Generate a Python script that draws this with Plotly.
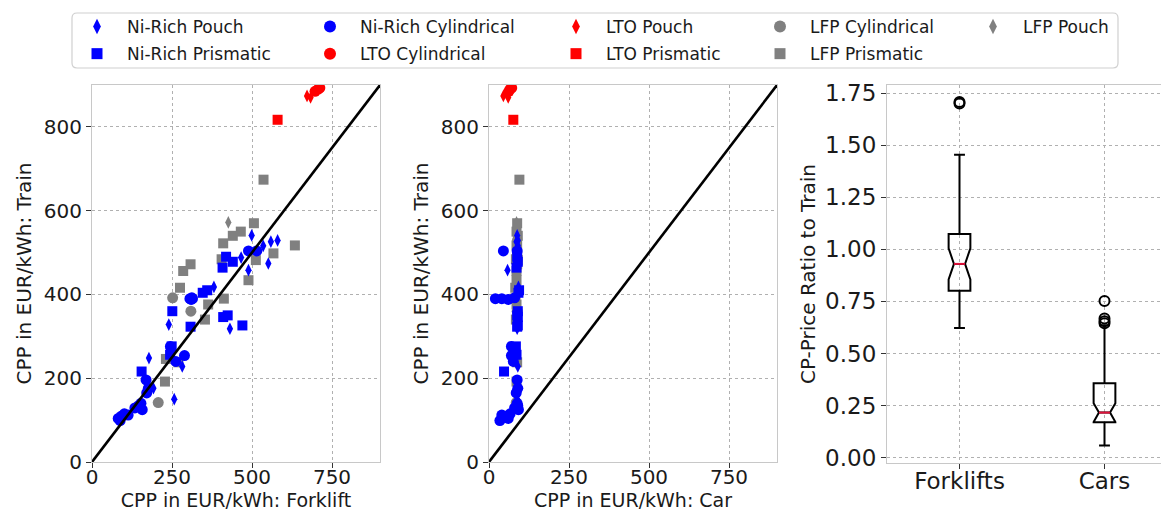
import plotly.graph_objects as go

W, H = 1169, 518
OFF = 8  # page offset of the figure inside the browser window

# ---------------- data ----------------
# each series: train CPP, forklift CPP, car CPP  (EUR/kWh)
lfp_cyl_train = [142, 392, 360]
lfp_cyl_fork = [207, 252, 309]
lfp_cyl_car = [85, 82, 88]

lfp_pri_train = [192, 246, 238, 416, 456, 472, 340, 376, 390, 522, 540, 550, 570, 434, 482, 498, 517, 674, 484]
lfp_pri_fork = [228, 231, 270, 275, 285, 308, 353, 363, 412, 410, 440, 465, 506, 489, 512, 567, 634, 536, 405]
lfp_pri_car = [86, 84, 88, 82, 86, 88, 84, 86, 80, 88, 90, 86, 88, 86, 90, 88, 86, 95, 84]

lfp_pou_train = [572]
lfp_pou_fork = [426]
lfp_pou_car = [86]

ni_pou_train = [150, 176, 248, 271, 328, 228, 418, 318, 488, 458, 541, 516, 474, 526, 529]
ni_pou_fork = [257, 192, 178, 240, 240, 282, 381, 431, 466, 489, 499, 535, 551, 559, 580]
ni_pou_car = [88, 85, 80, 88, 86, 90, 92, 88, 90, 58, 88, 90, 88, 86, 90]

ni_pri_train = [216, 276, 256, 360, 323, 404, 410, 346, 350, 326, 490, 464, 478]
ni_pri_fork = [155, 249, 244, 251, 308, 346, 360, 410, 424, 470, 419, 408, 440]
ni_pri_car = [47, 84, 86, 90, 88, 92, 94, 90, 88, 90, 88, 86, 90]

ni_cyl_train = [99, 109, 115, 112, 104, 129, 134, 125, 140, 165, 176, 196, 254, 390, 390, 388, 392, 504, 504, 276, 240]
ni_cyl_fork = [88, 91, 101, 113, 82, 134, 145, 157, 153, 171, 176, 169, 289, 306, 314, 310, 312, 489, 515, 245, 262]
ni_cyl_car = [34, 52, 66, 40, 60, 80, 90, 92, 88, 85, 90, 88, 70, 20, 40, 60, 80, 45, 88, 70, 76]

lto_cyl_train = [885, 890, 893]
lto_cyl_fork = [697, 707, 712]
lto_cyl_car = [62, 66, 71]

lto_pou_train = [874, 870]
lto_pou_fork = [672, 683]
lto_pou_car = [45, 60]

lto_pri_train = [817]
lto_pri_fork = [580]
lto_pri_car = [76]

# box plot statistics (CP-price ratio to train)
box_names = ["Forklifts", "Cars"]
box_pos = [1, 2]
box_q1 = [0.801, 0.170]
box_median = [0.930, 0.216]
box_q3 = [1.073, 0.357]
box_low = [0.622, 0.058]
box_high = [1.454, 0.635]
box_notch = [0.075, 0.045]
fork_outliers = [1.700, 1.707]
car_outliers = [0.645, 0.655, 0.668, 0.752]

AX_MAX = 900
BLUE, RED, GRAY = "#0000ff", "#ff0000", "#808080"

series = [
    ("LFP Cylindrical", lfp_cyl_fork, lfp_cyl_car, lfp_cyl_train, GRAY, "circle", "legend4"),
    ("LFP Prismatic", lfp_pri_fork, lfp_pri_car, lfp_pri_train, GRAY, "square", "legend4"),
    ("LFP Pouch", lfp_pou_fork, lfp_pou_car, lfp_pou_train, GRAY, "diamond-tall", "legend5"),
    ("Ni-Rich Pouch", ni_pou_fork, ni_pou_car, ni_pou_train, BLUE, "diamond-tall", "legend"),
    ("Ni-Rich Prismatic", ni_pri_fork, ni_pri_car, ni_pri_train, BLUE, "square", "legend"),
    ("Ni-Rich Cylindrical", ni_cyl_fork, ni_cyl_car, ni_cyl_train, BLUE, "circle", "legend2"),
    ("LTO Cylindrical", lto_cyl_fork, lto_cyl_car, lto_cyl_train, RED, "circle", "legend2"),
    ("LTO Pouch", lto_pou_fork, lto_pou_car, lto_pou_train, RED, "diamond-tall", "legend3"),
    ("LTO Prismatic", lto_pri_fork, lto_pri_car, lto_pri_train, RED, "square", "legend3"),
]
DATA_SIZE = {"circle": 11, "square": 10, "diamond-tall": 9}
LEG_SIZE = {"circle": 12, "square": 11, "diamond-tall": 11}

fig = go.Figure()

for name, fx, cx, ty, col, sym, lg in series:
    mk = dict(color=col, symbol=sym, size=DATA_SIZE[sym], line=dict(width=0))
    fig.add_trace(go.Scatter(x=fx, y=ty, mode="markers", name=name, marker=mk,
                             showlegend=False, legendgroup=name, xaxis="x", yaxis="y"))
    fig.add_trace(go.Scatter(x=cx, y=ty, mode="markers", name=name, marker=mk,
                             showlegend=False, legendgroup=name, xaxis="x2", yaxis="y2"))
    # legend entry (slightly larger symbol, as in the original legend)
    fig.add_trace(go.Scatter(x=[None], y=[None], mode="markers", name=name, legendgroup=name,
                             marker=dict(color=col, symbol=sym, size=LEG_SIZE[sym], line=dict(width=0)),
                             legend=lg, xaxis="x", yaxis="y"))

for xa, ya in (("x", "y"), ("x2", "y2")):
    fig.add_trace(go.Scatter(x=[0, AX_MAX], y=[0, AX_MAX], mode="lines",
                             line=dict(color="black", width=2.6), showlegend=False,
                             hoverinfo="skip", xaxis=xa, yaxis=ya))

BOX_W = 0.15
NOTCH_W = 0.245
for i in range(len(box_names)):
    fig.add_trace(go.Box(
        x=[box_pos[i]], q1=[box_q1[i]], median=[box_median[i]], q3=[box_q3[i]],
        lowerfence=[box_low[i]], upperfence=[box_high[i]], notchspan=[box_notch[i]],
        notched=True, notchwidth=NOTCH_W, width=BOX_W, whiskerwidth=0.5,
        boxpoints=False, fillcolor="rgba(255,255,255,0)",
        line=dict(color="black", width=2), showlegend=False,
        xaxis="x3", yaxis="y3", name=box_names[i]))
    half = BOX_W / 2 * (1 - 2 * NOTCH_W)
    fig.add_trace(go.Scatter(
        x=[box_pos[i] - half, box_pos[i] + half], y=[box_median[i]] * 2,
        mode="lines", line=dict(color="#e0103a", width=2), showlegend=False,
        xaxis="x3", yaxis="y3"))

for pos, outs in ((box_pos[0], fork_outliers), (box_pos[1], car_outliers)):
    fig.add_trace(go.Scatter(
        x=[pos] * len(outs), y=outs, mode="markers",
        marker=dict(symbol="circle-open", size=10, color="black", line=dict(width=2)),
        showlegend=False, xaxis="x3", yaxis="y3"))

FONT = "DejaVu Sans"
TXT = "#1a1a1a"
FRAME = "#c8c8c8"
GRID = "#b0b0b0"


def px_x(v):
    return (v - OFF) / W


def px_y(v):
    return 1 - (v - OFF) / H


def ax_common(tick_size=20, title_size=19, **kw):
    d = dict(showline=True, linecolor=FRAME, linewidth=1.2, mirror=True,
             ticks="outside", ticklen=5, tickwidth=1.2, tickcolor="#333333",
             showgrid=True, gridcolor=GRID, griddash="dot", gridwidth=1,
             zeroline=False, automargin=False,
             tickfont=dict(family=FONT, size=tick_size, color=TXT),
             title_font=dict(family=FONT, size=title_size, color=TXT))
    d.update(kw)
    return d


yb, yt = px_y(462), px_y(85)
scat_ticks = [0, 250, 500, 750]
y_ticks = [0, 200, 400, 600, 800]
ratio_ticks = [0, 0.25, 0.5, 0.75, 1.0, 1.25, 1.5, 1.75]

fig.update_layout(
    width=W, height=H,
    margin=dict(l=0, r=0, t=0, b=0),
    paper_bgcolor="white", plot_bgcolor="white",
    boxmode="overlay",
    xaxis=ax_common(domain=[px_x(92), px_x(380)], range=[0, AX_MAX], tickvals=scat_ticks,
                    ticklabelstandoff=-8,
                    title=dict(text="CPP in EUR/kWh: Forklift", standoff=0), anchor="y"),
    yaxis=ax_common(domain=[yb, yt], range=[0, AX_MAX], tickvals=y_ticks, title_size=20,
                    title=dict(text="CPP in EUR/kWh: Train", standoff=6), anchor="x"),
    xaxis2=ax_common(domain=[px_x(489), px_x(777)], range=[0, AX_MAX], tickvals=scat_ticks,
                     ticklabelstandoff=-8,
                     title=dict(text="CPP in EUR/kWh: Car", standoff=0), anchor="y2"),
    yaxis2=ax_common(domain=[yb, yt], range=[0, AX_MAX], tickvals=y_ticks, title_size=20,
                     title=dict(text="CPP in EUR/kWh: Train", standoff=6), anchor="x2"),
    xaxis3=ax_common(domain=[px_x(887), 1.0], range=[0.5, 2.5], tickvals=box_pos,
                     tick_size=23, ticklabelstandoff=-8,
                     ticktext=box_names, anchor="y3"),
    yaxis3=ax_common(domain=[px_y(463), yt], range=[-0.026, 1.789], tickvals=ratio_ticks,
                     tickformat=".2f", tick_size=23, title_size=20,
                     title=dict(text="CP-Price Ratio to Train", standoff=4), anchor="x3"),
    showlegend=True,
)

# five legend columns (column-major like the original)
text_starts = [127, 360, 606, 810, 1023]
leg_names = ["legend", "legend2", "legend3", "legend4", "legend5"]
for ln, ts in zip(leg_names, text_starts):
    fig.update_layout({ln: dict(x=px_x(ts - 60), xanchor="left", y=px_y(9), yanchor="top",
                                orientation="v", bgcolor="rgba(0,0,0,0)", borderwidth=0,
                                itemwidth=50, tracegroupgap=2, itemclick=False,
                                itemdoubleclick=False,
                                font=dict(family=FONT, size=17, color=TXT))})

# rounded legend frame
x0, x1, y0, y1 = px_x(72), px_x(1118), px_y(68), px_y(13)
rx, ry = 5 / W, 5 / H
path = (f"M{x0 + rx},{y1} L{x1 - rx},{y1} Q{x1},{y1} {x1},{y1 - ry} "
        f"L{x1},{y0 + ry} Q{x1},{y0} {x1 - rx},{y0} L{x0 + rx},{y0} "
        f"Q{x0},{y0} {x0},{y0 + ry} L{x0},{y1 - ry} Q{x0},{y1} {x0 + rx},{y1} Z")
fig.add_shape(type="path", path=path, xref="paper", yref="paper",
              line=dict(color="#d0d0d0", width=1.2), fillcolor="rgba(0,0,0,0)")

fig.write_html("out.html")
